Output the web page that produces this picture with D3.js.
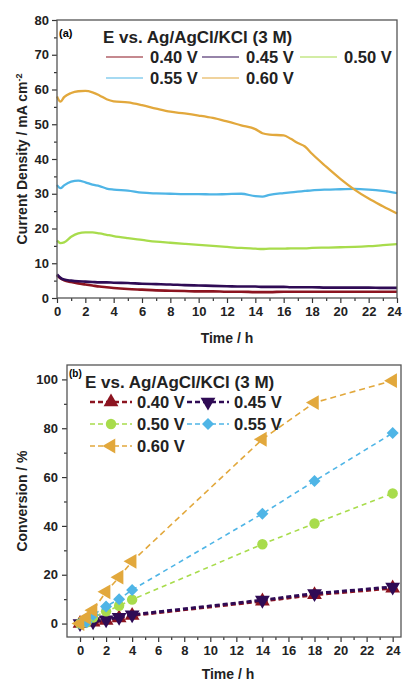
<!DOCTYPE html>
<html>
<head>
<meta charset="utf-8">
<script src="https://cdn.jsdelivr.net/npm/d3@7"></script>
<style>
	body { margin: 0; background: #fff; }
	svg { display: block; font-family: "Liberation Sans", Arial, sans-serif; font-weight: bold; }
	.tick text { font-family: "Liberation Sans", Arial, sans-serif; font-weight: bold; fill: #222; }
	.tick line { stroke: #333; stroke-width: 1.2px; }
</style>
</head>
<body>
<div id="chart"></div>
<script>
//Series labels + colours (same order in both panels)
const potentials = ['0.40 V', '0.45 V', '0.50 V', '0.55 V', '0.60 V'];
const colors = ['#8c1420', '#2f0b55', '#a8dc4c', '#4fb5e6', '#e2a83c'];

//Panel (a): current density vs time
const timeA = [0, 0.25, 0.5, 1, 1.5, 2, 2.5, 3, 3.5, 4, 5, 6, 7, 8, 9, 10, 11, 12, 13, 14, 14.5, 15, 16, 16.5, 17, 17.5, 18, 19, 20, 21, 22, 23, 24];
const current040 = [6.5, 5.6, 5.1, 4.6, 4.2, 3.9, 3.6, 3.3, 3.1, 2.9, 2.6, 2.4, 2.2, 2.1, 2.0, 1.9, 1.9, 1.8, 1.8, 1.7, 1.7, 1.7, 1.8, 1.8, 1.8, 1.8, 1.8, 1.8, 1.8, 1.8, 1.8, 1.8, 1.8];
const current045 = [6.8, 5.8, 5.3, 5.0, 4.8, 4.7, 4.6, 4.5, 4.5, 4.4, 4.3, 4.1, 4.0, 3.9, 3.7, 3.6, 3.5, 3.4, 3.3, 3.3, 3.2, 3.2, 3.2, 3.1, 3.1, 3.1, 3.1, 3.0, 3.0, 3.0, 3.0, 2.9, 2.9];
const current050 = [16.5, 15.8, 16.0, 17.6, 18.6, 18.9, 18.9, 18.6, 18.2, 17.8, 17.2, 16.7, 16.2, 15.9, 15.6, 15.3, 15.0, 14.7, 14.4, 14.2, 14.1, 14.2, 14.2, 14.3, 14.3, 14.3, 14.4, 14.5, 14.6, 14.7, 14.9, 15.2, 15.5];
const current055 = [32.5, 31.6, 32.4, 33.5, 33.8, 33.3, 32.6, 32.2, 31.5, 31.2, 30.9, 30.3, 30.1, 30.0, 29.9, 29.9, 29.8, 29.9, 30.0, 29.3, 29.2, 29.7, 30.2, 30.4, 30.6, 30.8, 31.0, 31.2, 31.3, 31.4, 31.2, 30.8, 30.2];
const current060 = [58.0, 56.5, 57.8, 59.0, 59.5, 59.6, 59.2, 58.3, 57.2, 56.6, 56.3, 55.5, 54.5, 53.6, 53.1, 52.5, 51.8, 50.8, 49.7, 48.6, 47.4, 47.0, 46.8, 45.8, 44.6, 43.6, 41.5, 37.8, 34.3, 31.2, 28.6, 26.4, 24.3];

//Panel (b): conversion vs time (sample points)
const timeB = [0, 0.5, 1, 2, 3, 4, 14, 18, 24];
const timeBLow = [0, 1, 2, 3, 4, 14, 18, 24];
const conv040 = [0, 0.6, 1.3, 2.3, 3.3, 9.2, 11.8, 14.5];
const conv045 = [0, 0.8, 1.6, 2.6, 3.6, 9.6, 12.3, 15.0];
const conv050 = [0, 0.5, 2.5, 5.0, 7.3, 9.8, 32.5, 41.0, 53.3];
const conv055 = [0, 0.5, 3.5, 7.0, 10.0, 13.8, 45.0, 58.4, 78.0];
const conv060 = [0, 2.5, 5.5, 13.0, 19.0, 25.5, 75.5, 90.5, 99.5];

const legendTitle = 'E vs. Ag/AgCl/KCl (3 M)';

const svg = d3.select('#chart').append('svg')
	.attr('width', 403)
	.attr('height', 681);

renderCurrent(svg);
renderConversion(svg);

function drawTicks(g, axis){
	g.call(axis);
	g.select('.domain').remove();
}

function renderCurrent(svg){
	const seriesA = [current040, current045, current050, current055, current060];
	const m = {l: 57, r: 397, t: 20, b: 298};

	const x = d3.scaleLinear().domain([0, 24]).range([m.l, m.r]);
	const y = d3.scaleLinear().domain([0, 80]).range([m.b, m.t]);

	//Minor + major ticks, outward
	drawTicks(svg.append('g').attr('transform', `translate(0,${m.b})`),
		d3.axisBottom(x).tickValues(d3.range(1, 24, 2)).tickSize(3).tickFormat(''));
	const xg = svg.append('g').attr('transform', `translate(0,${m.b})`)
		.style('font-size', '13px');
	drawTicks(xg, d3.axisBottom(x).tickValues(d3.range(0, 25, 2)).tickSize(5).tickPadding(4));
	//last label sits on the edge of the window, nudge it in
	xg.selectAll('.tick text').filter(function(d){ return d === 24; }).attr('dx', -3);

	drawTicks(svg.append('g').attr('transform', `translate(${m.l},0)`),
		d3.axisLeft(y).tickValues(d3.range(5, 80, 10)).tickSize(3).tickFormat(''));
	drawTicks(svg.append('g').attr('transform', `translate(${m.l},0)`)
		.style('font-size', '13px'),
		d3.axisLeft(y).tickValues(d3.range(0, 81, 10)).tickSize(5).tickPadding(3));

	//Curves
	const line = d3.line()
		.x(function(d, i){ return x(timeA[i]); })
		.y(function(d){ return y(d); })
		.curve(d3.curveMonotoneX);

	svg.append('g').selectAll('path')
		.data(seriesA)
		.enter()
		.append('path')
		.attr('d', line)
		.style('fill', 'none')
		.style('stroke', function(d, i){ return colors[i]; })
		.style('stroke-width', function(d, i){ return i < 2 ? 2.6 : 2.3; })
		.style('stroke-linejoin', 'round');

	//Frame
	svg.append('rect')
		.attr('x', m.l).attr('y', m.t)
		.attr('width', m.r - m.l).attr('height', m.b - m.t)
		.style('fill', 'none')
		.style('stroke', '#555')
		.style('stroke-width', 1.3);

	svg.append('text').attr('x', 59).attr('y', 37)
		.style('font-size', '11px').text('(a)');

	//Legend
	svg.append('text').attr('x', 103).attr('y', 43)
		.style('font-size', '17px').style('fill', '#222').text(legendTitle);

	const legPos = [[106, 57], [202, 57], [300, 57], [106, 78], [202, 78]];
	potentials.forEach(function(p, i){
		const lx = legPos[i][0], ly = legPos[i][1];
		svg.append('line')
			.attr('x1', lx).attr('x2', lx + 37)
			.attr('y1', ly).attr('y2', ly)
			.style('stroke', colors[i])
			.style('stroke-width', 1.2);
		svg.append('text')
			.attr('x', lx + 44).attr('y', ly + 6)
			.style('font-size', '16.5px').style('fill', '#222')
			.text(p);
	});

	//Axis titles
	svg.append('text')
		.attr('x', (m.l + m.r) / 2).attr('y', 343)
		.attr('text-anchor', 'middle')
		.style('font-size', '14px').style('fill', '#222')
		.text('Time / h');

	const yt = svg.append('text')
		.attr('transform', `translate(27,${(m.t + m.b) / 2}) rotate(-90)`)
		.attr('text-anchor', 'middle')
		.style('font-size', '14px').style('fill', '#222');
	yt.append('tspan').text('Current Density / mA cm');
	yt.append('tspan').attr('dy', -5).style('font-size', '9px').text('-2');
}

function renderConversion(svg){
	const timesB = [timeBLow, timeBLow, timeB, timeB, timeB];
	const seriesB = [conv040, conv045, conv050, conv055, conv060];
	const m = {l: 67, r: 401, t: 365, b: 637};

	const x = d3.scaleLinear().domain([-1, 24.64]).range([m.l, m.r]);
	const y = d3.scaleLinear().domain([-5.5, 105.9]).range([m.b, m.t]);

	drawTicks(svg.append('g').attr('transform', `translate(0,${m.b})`),
		d3.axisBottom(x).tickValues(d3.range(1, 25, 2)).tickSize(3).tickFormat(''));
	drawTicks(svg.append('g').attr('transform', `translate(0,${m.b})`)
		.style('font-size', '13px'),
		d3.axisBottom(x).tickValues(d3.range(0, 25, 2)).tickSize(5).tickPadding(4));
	drawTicks(svg.append('g').attr('transform', `translate(${m.l},0)`),
		d3.axisLeft(y).tickValues(d3.range(10, 101, 20)).tickSize(3).tickFormat(''));
	drawTicks(svg.append('g').attr('transform', `translate(${m.l},0)`)
		.style('font-size', '13px'),
		d3.axisLeft(y).tickValues(d3.range(0, 101, 20)).tickSize(5).tickPadding(4));

	//Marker shapes per potential
	const symbols = [
		{type: d3.symbolTriangle, size: 95, rot: 0},
		{type: d3.symbolTriangle, size: 95, rot: 180},
		{type: d3.symbolCircle, size: 85, rot: 0},
		{type: d3.symbolSquare, size: 72, rot: 45},
		{type: d3.symbolTriangle, size: 95, rot: -90}
	];
	const dashes = ['5,3', '5,3', '5,4', '5,4', '6,4'];
	const widths = [3, 3, 1.6, 1.6, 1.6];

	seriesB.forEach(function(vals, i){
		const ts = timesB[i];
		const line = d3.line()
			.x(function(d, j){ return x(ts[j]); })
			.y(function(d){ return y(d); });

		svg.append('path')
			.datum(vals)
			.attr('d', line)
			.style('fill', 'none')
			.style('stroke', colors[i])
			.style('stroke-width', widths[i])
			.style('stroke-dasharray', dashes[i]);

		svg.append('g').selectAll('path')
			.data(vals)
			.enter()
			.append('path')
			.attr('d', d3.symbol().type(symbols[i].type).size(symbols[i].size))
			.attr('transform', function(d, j){
				return `translate(${x(ts[j])},${y(d)}) rotate(${symbols[i].rot})`;
			})
			.style('fill', colors[i]);
	});

	//Frame
	svg.append('rect')
		.attr('x', m.l).attr('y', m.t)
		.attr('width', m.r - m.l).attr('height', m.b - m.t)
		.style('fill', 'none')
		.style('stroke', '#555')
		.style('stroke-width', 1.3);

	svg.append('text').attr('x', 69).attr('y', 377)
		.style('font-size', '10px').text('(b)');

	//Legend
	svg.append('text').attr('x', 85).attr('y', 388)
		.style('font-size', '17px').style('fill', '#222').text(legendTitle);

	const legPos = [[90, 402], [187, 402], [90, 424], [187, 424], [90, 446]];
	potentials.forEach(function(p, i){
		const lx = legPos[i][0], ly = legPos[i][1];
		svg.append('line')
			.attr('x1', lx).attr('x2', lx + 42)
			.attr('y1', ly).attr('y2', ly)
			.style('stroke', colors[i])
			.style('stroke-width', widths[i] > 2 ? 2.4 : 1.6)
			.style('stroke-dasharray', '5,3');
		svg.append('path')
			.attr('d', d3.symbol().type(symbols[i].type).size(symbols[i].size))
			.attr('transform', `translate(${lx + 21},${ly}) rotate(${symbols[i].rot})`)
			.style('fill', colors[i]);
		svg.append('text')
			.attr('x', lx + 47).attr('y', ly + 6)
			.style('font-size', '16.5px').style('fill', '#222')
			.text(p);
	});

	//Axis titles
	svg.append('text')
		.attr('x', 228).attr('y', 679)
		.attr('text-anchor', 'middle')
		.style('font-size', '14px').style('fill', '#222')
		.text('Time / h');

	svg.append('text')
		.attr('transform', `translate(27,${(m.t + m.b) / 2}) rotate(-90)`)
		.attr('text-anchor', 'middle')
		.style('font-size', '14px').style('fill', '#222')
		.text('Conversion / %');
}
</script>
</body>
</html>
